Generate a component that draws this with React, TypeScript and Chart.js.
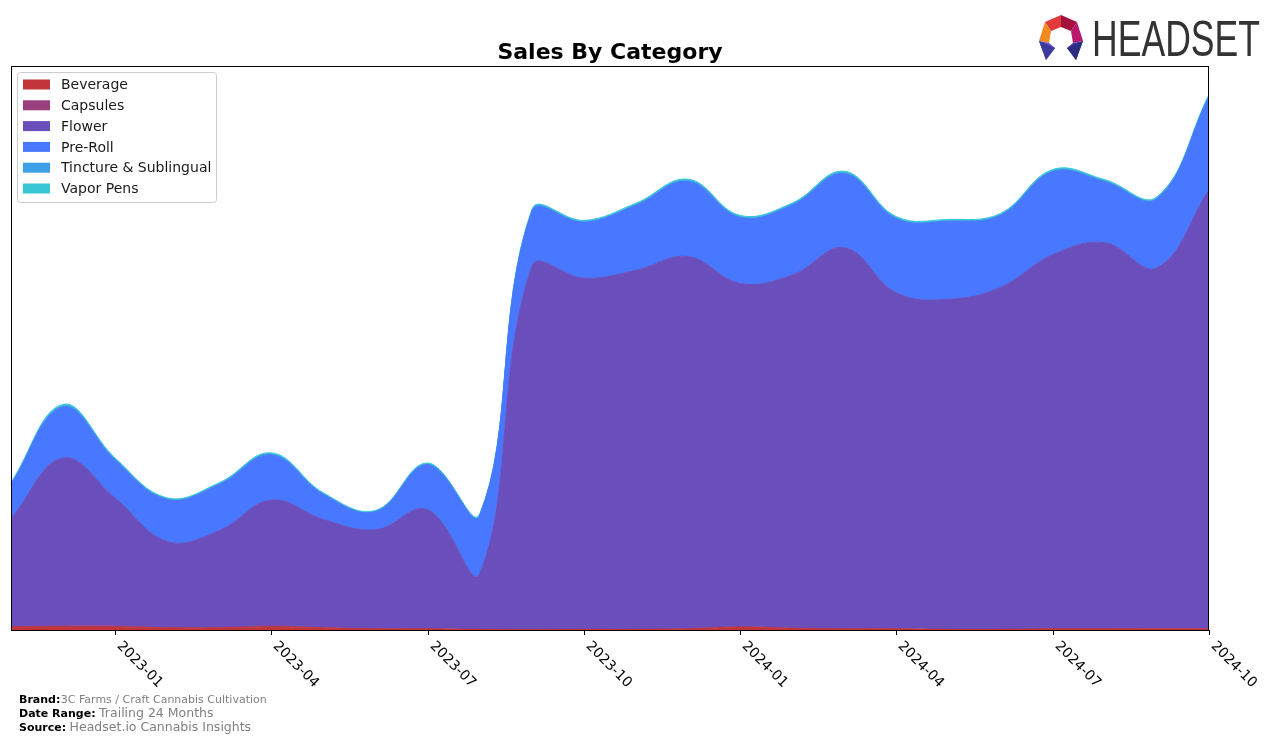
import React, { useEffect, useRef } from "react";
import { Chart, registerables } from "chart.js";

Chart.register(...registerables);

const months = [
  "2022-11", "2022-12", "2023-01", "2023-02", "2023-03", "2023-04",
  "2023-05", "2023-06", "2023-07", "2023-08", "2023-09", "2023-10",
  "2023-11", "2023-12", "2024-01", "2024-02", "2024-03", "2024-04",
  "2024-05", "2024-06", "2024-07", "2024-08", "2024-09", "2024-10",
];
const tickLabels = ["2023-01", "2023-04", "2023-07", "2023-10", "2024-01", "2024-04", "2024-07", "2024-10"];

const beverage = [3, 3, 3, 2, 2, 3, 2, 1, 1, 0.5, 0.3, 0.5, 0.5, 1, 2.5, 1.5, 1, 1, 0.5, 0.5, 1, 1, 1, 1];
const capsules = [0.5, 1, 1, 0.5, 0.5, 1, 0.5, 0.3, 0.3, 0.2, 0.2, 0.2, 0.2, 0.5, 1, 0.5, 0.3, 0.2, 0.2, 0.2, 0.3, 0.3, 0.2, 0.2];
const flower = [108, 168, 128, 86, 97, 126, 108, 99, 119, 56, 363, 351, 359, 372, 343, 353, 381, 336, 330, 342, 374, 386, 361, 439];
const preRoll = [34, 51, 38, 42, 46, 45, 25, 18, 45, 58, 55, 56, 65, 75, 66, 70, 74, 74, 78, 72, 83, 61, 69, 93];
const tincture = [0.6, 0.8, 0.6, 0.4, 0.5, 0.6, 0.4, 0.3, 0.4, 0.3, 0.5, 0.5, 0.6, 0.7, 0.6, 0.6, 0.7, 0.6, 0.5, 0.5, 0.6, 0.5, 0.5, 0.6];
const vaporPens = [1.5, 1.8, 1.4, 1.2, 1.3, 1.5, 1.2, 1, 1.3, 1.2, 1.5, 1.4, 1.5, 1.6, 1.5, 1.4, 1.7, 1.5, 1.4, 1.4, 1.6, 1.5, 1.4, 1.5];

const seriesNames = ["Beverage", "Capsules", "Flower", "Pre-Roll", "Tincture & Sublingual", "Vapor Pens"];
const seriesColors = ["#c1353b", "#9a3f7b", "#6a4fbc", "#4878ff", "#3d9fe8", "#37c6d4"];
const seriesValues = [beverage, capsules, flower, preRoll, tincture, vaporPens];

const titleText = "Sales By Category";
const footerLabels = ["Brand:", "Date Range:", "Source:"];
const footerValues = ["3C Farms / Craft Cannabis Cultivation", "Trailing 24 Months", "Headset.io Cannabis Insights"];

const decorPlugin = {
  id: "decor",
  afterDraw(chart: any) {
    const ctx: CanvasRenderingContext2D = chart.ctx;
    const area = chart.chartArea;
    const xScale = chart.scales.x;
    ctx.save();

    // frame
    ctx.strokeStyle = "#000";
    ctx.lineWidth = 1;
    ctx.strokeRect(Math.round(area.left) + 0.5, Math.round(area.top) + 0.5, Math.round(area.right - area.left) - 1, Math.round(area.bottom - area.top));

    // ticks + labels
    ctx.fillStyle = "#000";
    ctx.font = "14px 'DejaVu Sans'";
    ctx.textAlign = "left";
    ctx.textBaseline = "middle";
    tickLabels.forEach((lab) => {
      const idx = months.indexOf(lab);
      const x = Math.round(xScale.getPixelForValue(idx)) + 0.5;
      ctx.beginPath();
      ctx.moveTo(x, area.bottom);
      ctx.lineTo(x, area.bottom + 5);
      ctx.stroke();
      ctx.save();
      ctx.translate(x + 3.5, area.bottom + 14);
      ctx.rotate(Math.PI / 4);
      ctx.fillText(lab, 0, 0);
      ctx.restore();
    });

    // title
    ctx.font = "bold 22px 'DejaVu Sans'";
    ctx.textAlign = "center";
    ctx.textBaseline = "alphabetic";
    ctx.fillText(titleText, (area.left + area.right) / 2, 59);

    // legend
    const lx = 17, ly = 72, lw = 199, lh = 130;
    ctx.fillStyle = "rgba(255,255,255,0.85)";
    ctx.strokeStyle = "#cccccc";
    ctx.beginPath();
    (ctx as any).roundRect(lx + 0.5, ly + 0.5, lw, lh, 3);
    ctx.fill();
    ctx.stroke();
    ctx.font = "14px 'DejaVu Sans'";
    ctx.textAlign = "left";
    ctx.textBaseline = "middle";
    seriesNames.forEach((name, i) => {
      const cy = 84.5 + i * 20.8;
      ctx.fillStyle = seriesColors[i];
      ctx.fillRect(23, cy - 5, 27, 10);
      ctx.fillStyle = "#1a1a1a";
      ctx.fillText(name, 61, cy + 1);
    });

    // footer
    ctx.textBaseline = "alphabetic";
    const fy = [703, 717, 731];
    const fsize = [11, 12.5, 12.5];
    footerLabels.forEach((lab, i) => {
      ctx.font = "bold 11px 'DejaVu Sans'";
      ctx.fillStyle = "#000";
      ctx.fillText(lab, 19, fy[i]);
      const w = ctx.measureText(lab).width;
      ctx.font = `${fsize[i]}px 'DejaVu Sans'`;
      ctx.fillStyle = "#808080";
      ctx.fillText(footerValues[i], 19 + w + (i === 0 ? 0.5 : 3.5), fy[i]);
    });

    // logo icon
    const poly = (pts: number[][], color: string) => {
      ctx.fillStyle = color;
      ctx.beginPath();
      ctx.moveTo(pts[0][0], pts[0][1]);
      for (let k = 1; k < pts.length; k++) ctx.lineTo(pts[k][0], pts[k][1]);
      ctx.closePath();
      ctx.fill();
    };
    poly([[1045, 22], [1061, 15], [1061, 27], [1051, 31]], "#e23a3a");
    poly([[1061, 15], [1077, 22], [1071, 31], [1061, 27]], "#a3123e");
    poly([[1045, 22], [1051, 31], [1049, 43], [1039, 41]], "#f28a22");
    poly([[1077, 22], [1083, 41], [1073, 43], [1071, 31]], "#b8186e");
    poly([[1039, 41], [1049, 43], [1055, 48], [1046, 60]], "#5a4fd0");
    poly([[1083, 41], [1073, 43], [1067, 48], [1076, 60]], "#3a38a6");
    poly([[1039, 41], [1055, 48], [1046, 60]], "#3c3a9a");
    poly([[1083, 41], [1067, 48], [1076, 60]], "#2c2c80");

    // logo text
    ctx.fillStyle = "#333333";
    ctx.font = "50px 'Liberation Sans'";
    ctx.textAlign = "left";
    ctx.textBaseline = "alphabetic";
    const tw = ctx.measureText("HEADSET").width;
    ctx.save();
    ctx.translate(1092, 56);
    ctx.scale(168 / tw, 1);
    ctx.fillText("HEADSET", 0, 0);
    ctx.restore();

    ctx.restore();
  },
};

export default function App() {
  const ref = useRef<HTMLCanvasElement | null>(null);
  useEffect(() => {
    if (!ref.current) return;
    const chart = new Chart(ref.current, {
      type: "line",
      data: {
        labels: months,
        datasets: seriesValues.map((vals, i) => ({
          label: seriesNames[i],
          data: vals,
          backgroundColor: seriesColors[i],
          borderColor: seriesColors[i],
          borderWidth: 1,
          pointRadius: 0,
          fill: i === 0 ? "origin" : "-1",
          tension: 0.4,
        })),
      },
      options: {
        animation: false,
        responsive: false,
        devicePixelRatio: 1,
        layout: { padding: { left: 11, right: 67, top: 66, bottom: 113 } },
        plugins: {
          legend: { display: false },
          tooltip: { enabled: false },
          title: { display: false },
        },
        scales: {
          x: { display: false, offset: false },
          y: { display: false, stacked: true, min: 0, max: 564 },
        },
      },
      plugins: [decorPlugin],
    });
    return () => chart.destroy();
  }, []);
  return (
    <div style={{ position: "fixed", left: 0, top: 0, width: 1276, height: 743, background: "#fff" }}>
      <canvas ref={ref} width={1276} height={743} style={{ display: "block" }} />
    </div>
  );
}
